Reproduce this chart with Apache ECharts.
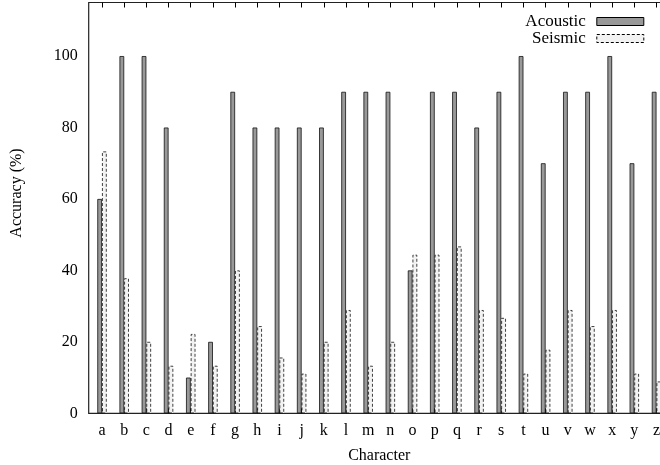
<!DOCTYPE html>
<html>
<head>
<meta charset="utf-8">
<script src="https://cdn.jsdelivr.net/npm/echarts@6/dist/echarts.min.js"></script>
<style>
  html, body { margin: 0; padding: 0; background: #fff; }
  #chart { width: 660px; height: 465px; }
</style>
</head>
<body>
<div id="chart"></div>
<script>
// characters along the x axis
var categories = ['a','b','c','d','e','f','g','h','i','j','k','l','m','n','o','p','q','r','s','t','u','v','w','x','y','z'];
// accuracy per character (%)
var acoustic = [60,100,100,80,10,20,90,80,80,80,80,90,90,90,40,90,90,80,90,100,70,90,90,100,70,90];
var seismic = [73.3,37.8,20.0,13.3,22.2,13.3,40.0,24.4,15.6,11.1,20.0,28.9,13.3,20.0,44.4,44.4,46.7,28.9,26.7,11.1,17.8,28.9,24.4,28.9,11.1,8.9];
var yTicks = [0,20,40,60,80,100];

var FONT = '"Liberation Serif", "DejaVu Serif", serif';
var idx = categories.map(function (c, i) { return i; });

function pairs(vals) {
  return vals.map(function (v, i) { return [i, v]; });
}

var myChart = echarts.init(document.getElementById('chart'), null, { renderer: 'canvas' });

var option = {
  backgroundColor: '#fff',
  animation: false,
  textStyle: { fontFamily: FONT, color: '#000' },
  // the plot box runs past the right edge of the picture
  grid: {
    left: 88.7, width: 581.1, top: 2.5, height: 410.8,
    containLabel: false,
    outerBoundsMode: 'none',
    show: true, borderColor: '#222', borderWidth: 1.2, backgroundColor: 'transparent'
  },
  legend: {
    orient: 'vertical',
    align: 'right',
    right: 10.7,
    top: 8,
    itemWidth: 47,
    itemHeight: 8,
    itemGap: 0,
    textStyle: { fontFamily: FONT, fontSize: 17, color: '#000', lineHeight: 17, padding: [0, 6, 0, 0] },
    data: [
      { name: 'Acoustic', icon: 'rect', itemStyle: { color: '#999', borderColor: '#000', borderWidth: 1 } },
      { name: 'Seismic', icon: 'rect', itemStyle: { color: '#f2f2f2', borderColor: '#000', borderWidth: 1, borderType: [3, 2] } }
    ]
  },
  xAxis: [{
    type: 'value',
    min: -0.6,
    max: 25.6,
    name: 'Character',
    nameLocation: 'middle',
    nameGap: 34,
    nameTextStyle: { fontFamily: FONT, fontSize: 16, color: '#000' },
    axisLine: { show: false },
    splitLine: { show: false },
    axisTick: { show: true, inside: true, length: 5, customValues: idx, lineStyle: { color: '#000' } },
    axisLabel: {
      customValues: idx,
      margin: 9,
      fontFamily: FONT, fontSize: 16, color: '#000',
      formatter: function (v) { return categories[Math.round(v)]; }
    }
  }, {
    type: 'value',
    position: 'top',
    min: -0.6,
    max: 25.6,
    axisLine: { show: false },
    splitLine: { show: false },
    axisTick: { show: true, inside: true, length: 5, customValues: idx, lineStyle: { color: '#000' } },
    axisLabel: { show: false }
  }],
  yAxis: {
    type: 'value',
    min: 0,
    max: 115,
    axisLine: { show: false },
    splitLine: { show: false },
    axisTick: { show: false },
    axisLabel: { customValues: yTicks, margin: 11, fontFamily: FONT, fontSize: 16, color: '#000' }
  },
  graphic: [{
    type: 'text',
    x: 17,
    y: 193,
    rotation: Math.PI / 2,
    style: {
      text: 'Accuracy (%)',
      font: '16px ' + FONT,
      fill: '#000',
      align: 'center',
      verticalAlign: 'middle'
    }
  }],
  series: [{
    name: 'Acoustic',
    type: 'bar',
    xAxisIndex: 0,
    barWidth: 4.7,
    barGap: '0%',
    itemStyle: { color: '#999', borderColor: '#111', borderWidth: 0.8 },
    data: pairs(acoustic)
  }, {
    name: 'Seismic',
    type: 'bar',
    xAxisIndex: 0,
    barWidth: 4.7,
    barGap: '0%',
    itemStyle: { color: '#f2f2f2', borderColor: '#111', borderWidth: 0.8, borderType: [3, 2] },
    data: pairs(seismic)
  }]
};

myChart.setOption(option);
window.onresize = function () { myChart.resize(); };
</script>
</body>
</html>
